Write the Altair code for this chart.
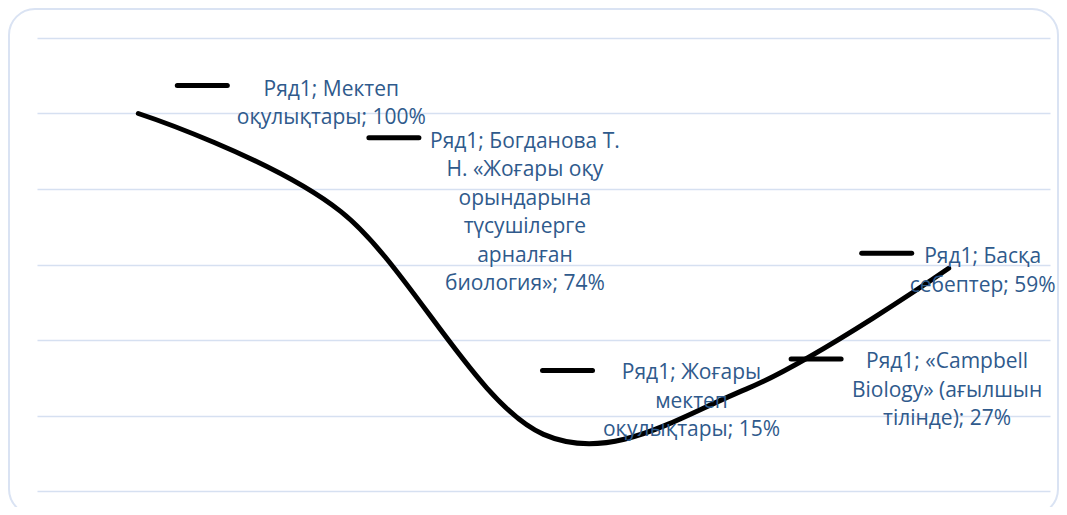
import altair as alt
import pandas as pd

# ---- data ----
series_name = "Ряд1"
categories = [
    "Мектеп оқулықтары",
    "Богданова Т. Н. «Жоғары оқу орындарына түсушілерге арналған биология»",
    "Жоғары мектеп оқулықтары",
    "«Campbell Biology» (ағылшын тілінде)",
    "Басқа себептер",
]
# category names as wrapped in the picture's data labels
wrapped_categories = [
    "Мектеп\nоқулықтары",
    "Богданова Т.\nН. «Жоғары оқу\nорындарына\nтүсушілерге\nарналған\nбиология»",
    "Жоғары\nмектеп\nоқулықтары",
    "«Campbell\nBiology» (ағылшын\nтілінде)",
    "Басқа\nсебептер",
]
values = [100, 74, 15, 27, 59]
y_ticks = [0, 20, 40, 60, 80, 100, 120]

labels = [f"{series_name}; {w}; {v}%" for w, v in zip(wrapped_categories, values)]
df = pd.DataFrame({"cat": categories, "value": values, "label": labels})

# ---- layout (label nudges, pixels): key dx, key dy, text dx, text dy ----
label_nudges = [
    (64, -28, 193, -18),
    (53, -74, 184, -64),
    (24, -64, 148, -55),
    (70, -30, 201, -21),
    (-62, -15, 34, -5),
]

W, H = 1013, 453
TEXT_COLOR = "#2F5A8C"
GRID_COLOR = "#D6E0F1"

x_enc = alt.X("cat:N", sort=categories,
              scale=alt.Scale(type="point", padding=0.5), axis=None)
y_enc = alt.Y("value:Q",
              scale=alt.Scale(domain=[0, 120], nice=False, zero=True),
              axis=alt.Axis(values=y_ticks, grid=True, gridColor=GRID_COLOR,
                            gridWidth=1.5, domain=False, ticks=False,
                            labels=False, title=None))

base = alt.Chart(df)

frame = alt.Chart(alt.Data(values=[{"f": 1}])).mark_rect(
    filled=False, stroke="#DAE3F3", strokeWidth=2, cornerRadius=26, clip=False
).encode(x=alt.value(-28), x2=alt.value(W + 8),
         y=alt.value(-29), y2=alt.value(H + 24))

line = base.mark_line(interpolate="cardinal", color="black", strokeWidth=5,
                      strokeCap="round").encode(x=x_enc, y=y_enc)

layers = [frame, line]
for cat, (kdx, kdy, tdx, tdy) in zip(categories, label_nudges):
    sub = base.transform_filter(alt.datum.cat == cat)
    key = sub.mark_point(shape="M-1,0L1,0", size=2500, filled=False,
                         stroke="black", strokeWidth=5, strokeCap="round",
                         opacity=1, xOffset=kdx, yOffset=kdy).encode(
        x=x_enc, y=alt.Y("value:Q"))
    txt = sub.mark_text(lineBreak="\n", align="center", baseline="alphabetic",
                        font="Open Sans", fontSize=21, lineHeight=28.5,
                        color=TEXT_COLOR, dx=tdx, dy=tdy).encode(
        x=x_enc, y=alt.Y("value:Q"), text="label:N")
    layers += [key, txt]

chart = alt.layer(*layers).properties(
    width=W, height=H,
    autosize=alt.AutoSizeParams(type="none"),
    padding={"left": 29, "top": 30, "right": 9, "bottom": 16},
).configure_view(strokeWidth=0)

chart.save("out.html", embed_options={"renderer": "svg", "actions": False})
